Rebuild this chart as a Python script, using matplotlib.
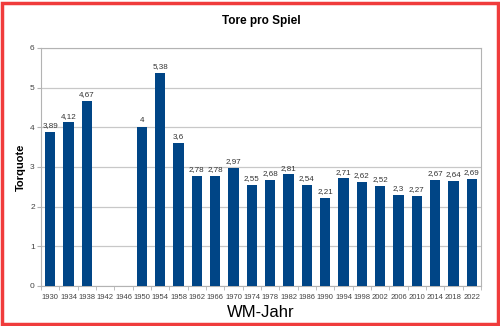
import matplotlib.pyplot as plt
import numpy as np
from matplotlib.patches import Rectangle

plt.rcParams['font.family'] = ['Liberation Sans', 'DejaVu Sans']

years = [1930, 1934, 1938, 1942, 1946, 1950, 1954, 1958, 1962, 1966, 1970, 1974,
         1978, 1982, 1986, 1990, 1994, 1998, 2002, 2006, 2010, 2014, 2018, 2022]

# no tournaments in 1942 and 1946
goals_per_game = [3.89, 4.12, 4.67, np.nan, np.nan, 4, 5.38, 3.6, 2.78, 2.78, 2.97, 2.55,
                  2.68, 2.81, 2.54, 2.21, 2.71, 2.62, 2.52, 2.3, 2.27, 2.67, 2.64, 2.69]

bar_color = "#004586"
grid_color = "#c8c8c8"

fig = plt.figure(figsize=(5, 3.26), dpi=100)
ax = fig.add_axes([0.082, 0.123, 0.88, 0.73])

positions = np.arange(len(years))
values = np.array(goals_per_game, dtype=float)
ax.bar(positions, np.nan_to_num(values), width=0.55, color=bar_color, zorder=3)

for pos, val in zip(positions, values):
    if np.isnan(val):
        continue
    label = f"{val:g}".replace(".", ",")
    ax.text(pos, val + 0.07, label, ha="center", va="bottom", fontsize=5.8, color="#333333", zorder=4)

ax.set_xlim(-0.5, len(years) - 0.5)
ax.set_ylim(0, 6)
ax.set_yticks(range(7))
ax.set_xticks(positions)
ax.set_xticklabels([str(y) for y in years])
ax.set_xticks(np.arange(-0.5, len(years)), minor=True)

ax.tick_params(axis="x", which="major", length=0, labelsize=5.5, labelcolor="#444444", pad=6)
ax.tick_params(axis="x", which="minor", length=3, color="#b3b3b3")
ax.tick_params(axis="y", length=3, color="#b3b3b3", labelsize=6, labelcolor="#444444", pad=1.5)

ax.grid(axis="y", color=grid_color, linewidth=0.9, zorder=0)
for spine in ax.spines.values():
    spine.set_color("#b3b3b3")
    spine.set_linewidth(0.8)

ax.set_title("Tore pro Spiel", fontsize=8.5, fontweight="bold", pad=17)
ax.set_ylabel("Torquote", fontsize=8, fontweight="bold", labelpad=3)
ax.set_xlabel("WM-Jahr", fontsize=12, labelpad=3)

# red frame around the whole picture
fig.patches.append(Rectangle((0.004, 0.006), 0.992, 0.986, transform=fig.transFigure,
                             fill=False, edgecolor="#f03c3c", linewidth=2.5))

fig.savefig("out.png", dpi=100)
